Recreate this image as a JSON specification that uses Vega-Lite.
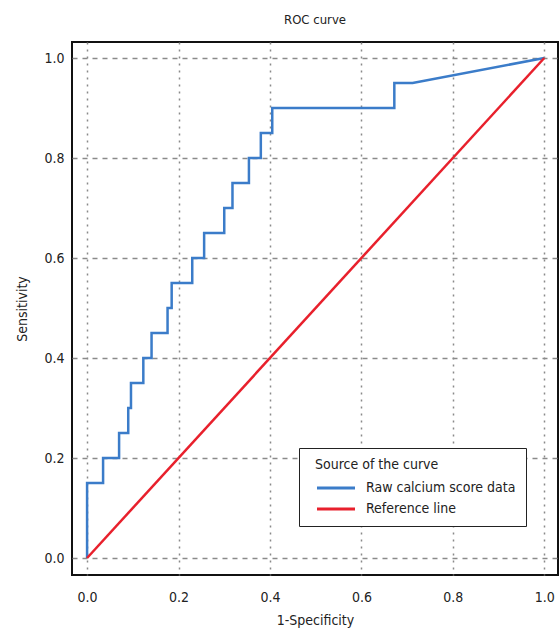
{
  "$schema": "https://vega.github.io/schema/vega-lite/v6.json",
  "width": 486,
  "height": 533,
  "autosize": {"type": "none"},
  "padding": {"left": 72, "top": 42, "right": 2, "bottom": 59},
  "background": "white",
  "title": {"text": "ROC curve", "fontSize": 13, "fontWeight": "normal", "font": "Liberation Sans Narrow, DejaVu Sans Condensed, sans-serif", "color": "#222", "offset": 15, "anchor": "middle"},
  "config": {
    "view": {"stroke": "#111", "strokeWidth": 2},
    "font": "Liberation Sans Narrow, DejaVu Sans Condensed, sans-serif",
    "axis": {"domain": false, "ticks": false, "labelFontSize": 14, "labelColor": "#222", "titleFontSize": 14, "titleFontWeight": "normal", "titleColor": "#222", "gridColor": "#8a8a8a", "gridWidth": 1.5, "gridOpacity": 1, "labelFont": "Liberation Sans Narrow, DejaVu Sans Condensed, sans-serif", "titleFont": "Liberation Sans Narrow, DejaVu Sans Condensed, sans-serif"},
    "legend": {"labelFont": "Liberation Sans Narrow, DejaVu Sans Condensed, sans-serif", "titleFont": "Liberation Sans Narrow, DejaVu Sans Condensed, sans-serif"}
  },
  "data": {"values": [
    {"series": "Raw calcium score data", "ord": 1, "x": 0, "y": 0},
    {"series": "Raw calcium score data", "ord": 2, "x": 0, "y": 0.15},
    {"series": "Raw calcium score data", "ord": 3, "x": 0.035, "y": 0.15},
    {"series": "Raw calcium score data", "ord": 4, "x": 0.035, "y": 0.2},
    {"series": "Raw calcium score data", "ord": 5, "x": 0.07, "y": 0.2},
    {"series": "Raw calcium score data", "ord": 6, "x": 0.07, "y": 0.25},
    {"series": "Raw calcium score data", "ord": 7, "x": 0.09, "y": 0.25},
    {"series": "Raw calcium score data", "ord": 8, "x": 0.09, "y": 0.3},
    {"series": "Raw calcium score data", "ord": 9, "x": 0.096, "y": 0.3},
    {"series": "Raw calcium score data", "ord": 10, "x": 0.096, "y": 0.35},
    {"series": "Raw calcium score data", "ord": 11, "x": 0.123, "y": 0.35},
    {"series": "Raw calcium score data", "ord": 12, "x": 0.123, "y": 0.4},
    {"series": "Raw calcium score data", "ord": 13, "x": 0.141, "y": 0.4},
    {"series": "Raw calcium score data", "ord": 14, "x": 0.141, "y": 0.45},
    {"series": "Raw calcium score data", "ord": 15, "x": 0.176, "y": 0.45},
    {"series": "Raw calcium score data", "ord": 16, "x": 0.176, "y": 0.5},
    {"series": "Raw calcium score data", "ord": 17, "x": 0.185, "y": 0.5},
    {"series": "Raw calcium score data", "ord": 18, "x": 0.185, "y": 0.55},
    {"series": "Raw calcium score data", "ord": 19, "x": 0.23, "y": 0.55},
    {"series": "Raw calcium score data", "ord": 20, "x": 0.23, "y": 0.6},
    {"series": "Raw calcium score data", "ord": 21, "x": 0.256, "y": 0.6},
    {"series": "Raw calcium score data", "ord": 22, "x": 0.256, "y": 0.65},
    {"series": "Raw calcium score data", "ord": 23, "x": 0.3, "y": 0.65},
    {"series": "Raw calcium score data", "ord": 24, "x": 0.3, "y": 0.7},
    {"series": "Raw calcium score data", "ord": 25, "x": 0.318, "y": 0.7},
    {"series": "Raw calcium score data", "ord": 26, "x": 0.318, "y": 0.75},
    {"series": "Raw calcium score data", "ord": 27, "x": 0.354, "y": 0.75},
    {"series": "Raw calcium score data", "ord": 28, "x": 0.354, "y": 0.8},
    {"series": "Raw calcium score data", "ord": 29, "x": 0.38, "y": 0.8},
    {"series": "Raw calcium score data", "ord": 30, "x": 0.38, "y": 0.85},
    {"series": "Raw calcium score data", "ord": 31, "x": 0.405, "y": 0.85},
    {"series": "Raw calcium score data", "ord": 32, "x": 0.405, "y": 0.9},
    {"series": "Raw calcium score data", "ord": 33, "x": 0.672, "y": 0.9},
    {"series": "Raw calcium score data", "ord": 34, "x": 0.672, "y": 0.95},
    {"series": "Raw calcium score data", "ord": 35, "x": 0.712, "y": 0.95},
    {"series": "Raw calcium score data", "ord": 36, "x": 1, "y": 1},
    {"series": "Reference line", "ord": 1, "x": 0, "y": 0},
    {"series": "Reference line", "ord": 2, "x": 1, "y": 1}
  ]},
  "mark": {"type": "line", "strokeWidth": 2.5, "clip": true},
  "encoding": {
    "x": {"field": "x", "type": "quantitative", "scale": {"domain": [-0.033, 1.03], "nice": false, "zero": false},
      "axis": {"values": [0, 0.2, 0.4, 0.6, 0.8, 1.0], "format": ".1f", "title": "1-Specificity", "labelPadding": 15, "titlePadding": 9, "grid": true, "gridDash": [2, 5]}},
    "y": {"field": "y", "type": "quantitative", "scale": {"domain": [-0.034, 1.032], "nice": false, "zero": false},
      "axis": {"values": [0, 0.2, 0.4, 0.6, 0.8, 1.0], "format": ".1f", "title": "Sensitivity", "labelPadding": 8, "titlePadding": 14, "grid": true, "gridDash": [5, 5]}},
    "order": {"field": "ord", "type": "quantitative"},
    "color": {"field": "series", "type": "nominal",
      "scale": {"domain": ["Raw calcium score data", "Reference line"], "range": ["#3b7cc9", "#e8202c"]},
      "legend": {"title": "Source of the curve", "orient": "none", "legendX": 227, "legendY": 406,
        "direction": "vertical", "padding": 10, "fillColor": "white", "strokeColor": "#222",
        "titleFontSize": 14, "titleFontWeight": "normal", "titleColor": "#222", "titlePadding": 5,
        "labelFontSize": 14, "labelColor": "#222", "symbolType": "M-2,0H2", "symbolSize": 361, "symbolStrokeWidth": 3, "labelOffset": 19,
        "rowPadding": 3, "symbolOffset": 16,
        "encode": {
          "title": {"update": {"dx": {"value": 6}}},
          "symbols": {"update": {"stroke": {"signal": "datum.label === 'Raw calcium score data' ? '#1f5f8a' : '#e8202c'"}}}}}}
  }
}
